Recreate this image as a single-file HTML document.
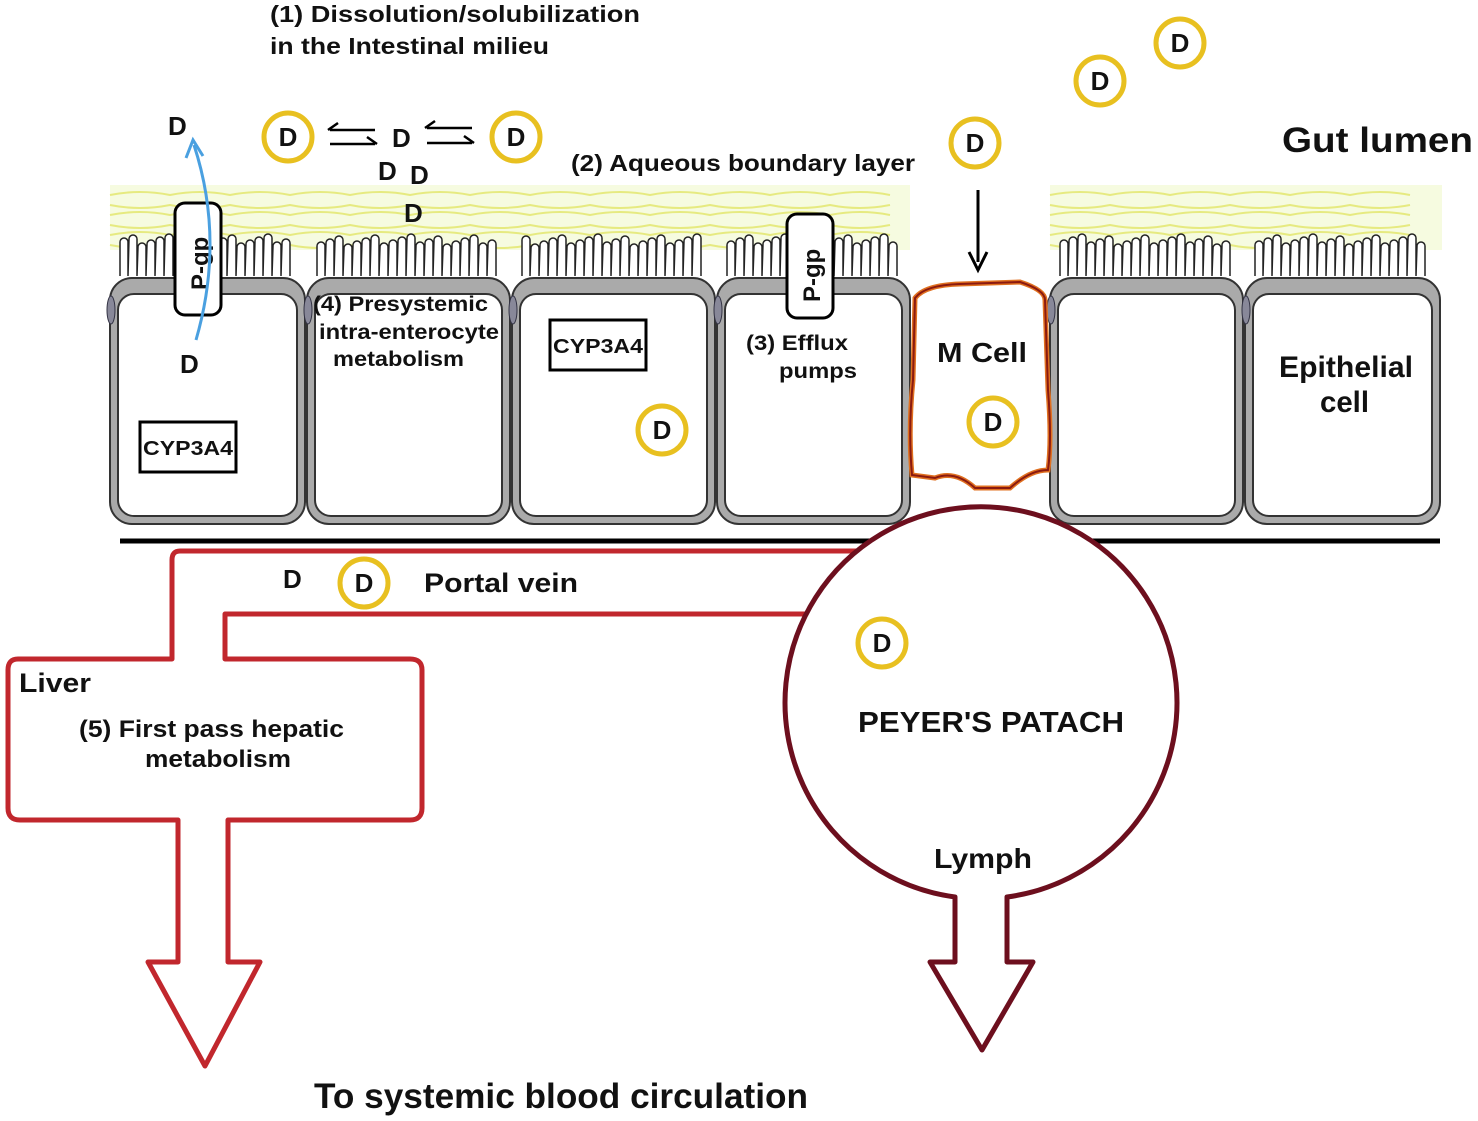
<!DOCTYPE html>
<html><head><meta charset="utf-8"><style>
body{margin:0;background:#fff}
svg{display:block}
text{font-family:"Liberation Sans",sans-serif;font-weight:bold;fill:#111}
</style></head><body>
<svg id="s" width="1478" height="1121" viewBox="0 0 1478 1121" xmlns="http://www.w3.org/2000/svg">
<g id="layer"></g>
<g id="cells"></g>
<!-- M cell -->
<path d="M915,298 Q925,285 960,284 L1020,282 Q1045,290 1045,300 L1048,390 Q1052,440 1048,470 Q1030,470 1010,488 L975,488 Q955,470 935,478 L912,475 Q908,430 913,380 Z" fill="#fff" stroke="#e07020" stroke-width="5"/>
<path d="M915,298 Q925,285 960,284 L1020,282 Q1045,290 1045,300 L1048,390 Q1052,440 1048,470 Q1030,470 1010,488 L975,488 Q955,470 935,478 L912,475 Q908,430 913,380 Z" fill="none" stroke="#8b1a10" stroke-width="2"/>
<line x1="120" y1="541" x2="1440" y2="541" stroke="#000" stroke-width="5"/>
<g fill="none" stroke="#c1272d" stroke-width="5" stroke-linejoin="round">
<path d="M862,551 L180,551 Q172,551 172,560 L172,659 L18,659 Q8,659 8,670 L8,808 Q8,820 20,820 L178,820 L178,962 L148,962 L205,1066 L260,962 L228,962 L228,820 L410,820 Q422,820 422,808 L422,670 Q422,659 410,659 L225,659 L225,614 L805,614"/>
</g>
<g fill="none" stroke="#6d0f1e" stroke-width="5" stroke-linejoin="round">
<path d="M955,897 A196,196 0 1 1 1007,897 L1007,962 L1033,962 L982,1050 L930,962 L955,962 Z" fill="#fff"/>
</g>
<line x1="978" y1="190" x2="978" y2="262" stroke="#000" stroke-width="3"/>
<path d="M969,252 L978,270 L987,252" fill="none" stroke="#000" stroke-width="3"/>
<g stroke="#000" stroke-width="2.5" fill="none">
<path d="M375,130 L330,130 M338,123 L328,130 M330,144 L375,144 M367,137 L377,144"/>
<path d="M472,128 L427,128 M435,121 L425,128 M427,143 L472,143 M464,136 L474,143"/>
</g>
<rect x="175" y="203" width="46" height="112" rx="10" fill="#fff" stroke="#000" stroke-width="3"/>
<text transform="translate(208,290) rotate(-90)" font-size="24">P-gp</text>
<rect x="787" y="214" width="46" height="104" rx="10" fill="#fff" stroke="#000" stroke-width="3"/>
<text transform="translate(820,302) rotate(-90)" font-size="24">P-gp</text>
<path d="M196,340 Q225,240 194,145" fill="none" stroke="#4aa0e0" stroke-width="3"/>
<path d="M186,158 L193,140 L203,156" fill="none" stroke="#4aa0e0" stroke-width="3"/>
<rect x="140" y="422" width="96" height="50" fill="#fff" stroke="#000" stroke-width="3"/>
<text x="143" y="455" font-size="20" textLength="90" lengthAdjust="spacingAndGlyphs">CYP3A4</text>
<rect x="550" y="320" width="96" height="50" fill="#fff" stroke="#000" stroke-width="3"/>
<text x="553" y="353" font-size="20" textLength="90" lengthAdjust="spacingAndGlyphs">CYP3A4</text>
<g id="dc" fill="#fff" stroke="#e8c020" stroke-width="5"></g>
<g lengthAdjust="spacingAndGlyphs">
<text x="270" y="22" font-size="23" textLength="370" lengthAdjust="spacingAndGlyphs">(1)  Dissolution/solubilization</text>
<text x="270" y="54" font-size="23" textLength="279" lengthAdjust="spacingAndGlyphs">in the Intestinal milieu</text>
<text x="571" y="171" font-size="23" textLength="344" lengthAdjust="spacingAndGlyphs">(2) Aqueous boundary layer</text>
<text x="1282" y="152" font-size="35" textLength="191" lengthAdjust="spacingAndGlyphs">Gut lumen</text>
<text x="313" y="311" font-size="21" textLength="175" lengthAdjust="spacingAndGlyphs">(4) Presystemic</text>
<text x="319" y="339" font-size="21" textLength="180" lengthAdjust="spacingAndGlyphs">intra-enterocyte</text>
<text x="333" y="366" font-size="21" textLength="131" lengthAdjust="spacingAndGlyphs">metabolism</text>
<text x="746" y="350" font-size="21" textLength="102" lengthAdjust="spacingAndGlyphs">(3) Efflux</text>
<text x="779" y="378" font-size="21" textLength="78" lengthAdjust="spacingAndGlyphs">pumps</text>
<text x="937" y="362" font-size="28" textLength="90" lengthAdjust="spacingAndGlyphs">M Cell</text>
<text x="1279" y="377" font-size="30" textLength="134" lengthAdjust="spacingAndGlyphs">Epithelial</text>
<text x="1320" y="412" font-size="30" textLength="49" lengthAdjust="spacingAndGlyphs">cell</text>
<text x="424" y="592" font-size="27" textLength="154" lengthAdjust="spacingAndGlyphs">Portal vein</text>
<text x="19" y="692" font-size="27" textLength="72" lengthAdjust="spacingAndGlyphs">Liver</text>
<text x="79" y="737" font-size="24" textLength="265" lengthAdjust="spacingAndGlyphs">(5) First pass hepatic</text>
<text x="145" y="767" font-size="24" textLength="146" lengthAdjust="spacingAndGlyphs">metabolism</text>
<text x="858" y="732" font-size="29" textLength="266" lengthAdjust="spacingAndGlyphs">PEYER'S PATACH</text>
<text x="934" y="868" font-size="28" textLength="98" lengthAdjust="spacingAndGlyphs">Lymph</text>
<text x="314" y="1108" font-size="35" textLength="494" lengthAdjust="spacingAndGlyphs">To systemic blood circulation</text>
</g>
<g font-size="26">
<text x="168" y="135">D</text><text x="392" y="147">D</text><text x="378" y="180">D</text><text x="410" y="184">D</text>
<text x="404" y="222">D</text><text x="180" y="373">D</text><text x="283" y="588">D</text>
</g>
<g id="dt" font-size="26" text-anchor="middle"></g>
</svg>
<script>
var NS="http://www.w3.org/2000/svg";
function el(p,t,a,txt){var e=document.createElementNS(NS,t);for(var k in a)e.setAttribute(k,a[k]);if(txt)e.textContent=txt;document.getElementById(p).appendChild(e);return e;}
[[110,910],[1050,1442]].forEach(function(r){
 el("layer","rect",{x:r[0],y:185,width:r[1]-r[0],height:65,fill:"#f6fbe0"});
 for(var i=0;i<6;i++){var y=195+i*10;var d="M"+r[0]+","+y;for(var x=r[0];x+60<=r[1];x+=60){d+=" q30,"+(i%2?6:-6)+" 60,0";}
 el("layer","path",{d:d,fill:"none",stroke:"#e6ea80","stroke-width":2});}
});
var cells=[[110,305],[307,510],[512,715],[717,910],[1050,1243],[1245,1440]];
cells.forEach(function(c){
 var x1=c[0],x2=c[1];
 var d="M"+(x1+10)+",276";
 for(var x=x1+10;x<x2-14;x+=9){var h=238+((x*7)%11);d+=" L"+x+","+h+" a4,4 0 0 1 8,0 L"+(x+8)+",276";}
 el("cells","path",{d:d,fill:"#fff",stroke:"#222","stroke-width":1.5});
 el("cells","rect",{x:x1,y:278,width:x2-x1,height:246,rx:22,fill:"#aaa",stroke:"#333","stroke-width":2});
 el("cells","rect",{x:x1+8,y:294,width:x2-x1-16,height:222,rx:16,fill:"#fff",stroke:"#333","stroke-width":2});
 el("cells","ellipse",{cx:x1+1,cy:310,rx:4,ry:14,fill:"#889",stroke:"#334"});
});
[[288,137],[516,137],[1180,43],[1100,81],[975,143],[662,430],[993,422],[364,583],[882,643]].forEach(function(p){
 el("dc","circle",{cx:p[0],cy:p[1],r:24});
 el("dt","text",{x:p[0],y:p[1]+9},"D");
});
</script>
</body></html>
